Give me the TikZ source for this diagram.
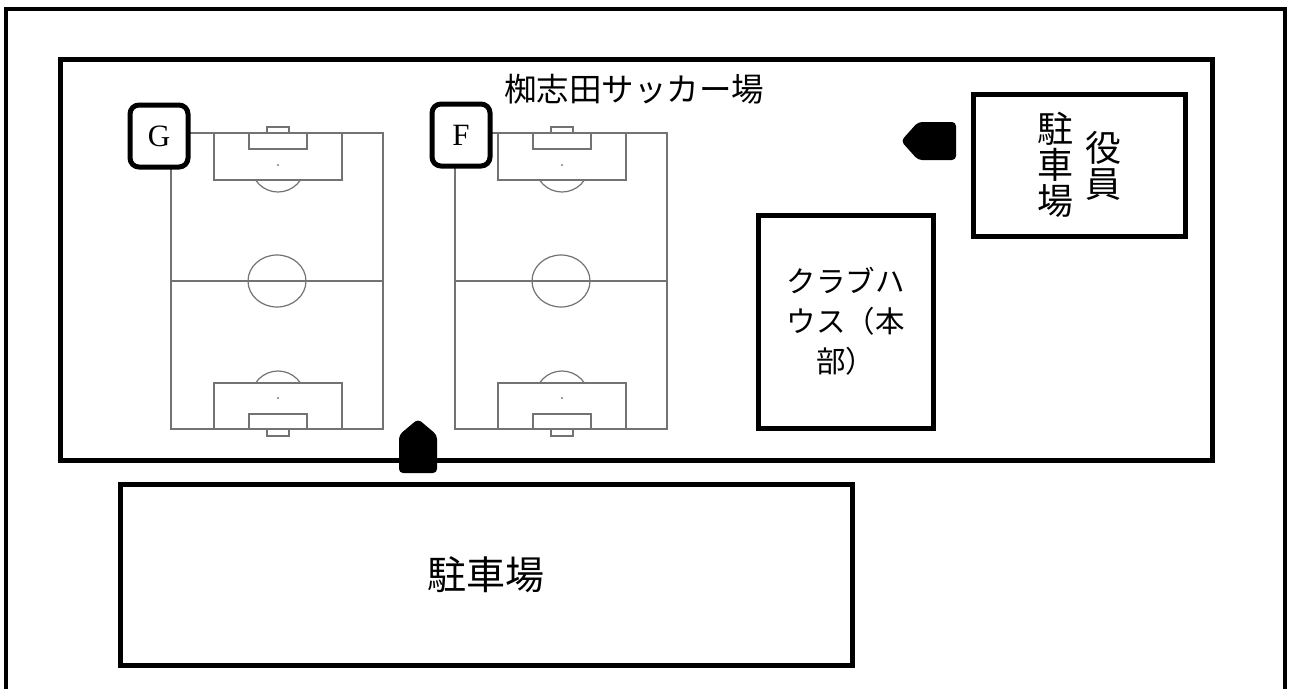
\documentclass[tikz,border=0pt]{standalone}
\usepackage{fontspec}
\newfontfamily\jp{Noto Sans CJK JP}
\newfontfamily\lat{Liberation Serif}
\begin{document}
\begin{tikzpicture}[x=1pt,y=-1pt,
  heavy/.style={draw=black,line width=5pt},
  pitchline/.style={draw=black!55,line width=1.2pt},
  lbl/.style={draw=black,line width=5pt,rounded corners=9pt,fill=white,minimum width=58pt,minimum height=62pt,inner sep=0pt,font=\lat\fontsize{31}{31}\selectfont},
  bldg/.style={draw=black,line width=5pt,inner sep=0pt},
  arr/.style={fill=black,rounded corners=4pt},
  jptext/.style={font=\jp\fontsize{#1}{#1}\selectfont,inner sep=0pt,align=center}]
\useasboundingbox (0,0) rectangle (1289,689);
\fill[white] (0,0) rectangle (1289,689);
% outer frame
\draw[line width=4.5pt] (6,689) -- (6,9) -- (1285,9) -- (1285,689);
% soccer ground
\draw[heavy] (60,59) rectangle (1212,460);
% pitches
\foreach \dx in {0,284}{
\begin{scope}[xshift=\dx pt]
  \draw[pitchline] (171,133) rectangle (383,429);
  \draw[pitchline] (171,281) -- (383,281);
  \draw[pitchline] (277,281) ellipse[x radius=29,y radius=26];
  \draw[pitchline] (214,133) rectangle (342,180);
  \draw[pitchline] (249,133) rectangle (307,149);
  \draw[pitchline] (267,127) rectangle (289,133);
  \fill[black!50] (278,165) circle[radius=1.1];
  \begin{scope}
    \clip (171,180) rectangle (383,200);
    \draw[pitchline] (278,165) circle[radius=27];
  \end{scope}
  \draw[pitchline] (214,383) rectangle (342,429);
  \draw[pitchline] (249,414) rectangle (307,429);
  \draw[pitchline] (267,429) rectangle (289,436);
  \fill[black!50] (278,398) circle[radius=1.1];
  \begin{scope}
    \clip (171,360) rectangle (383,383);
    \draw[pitchline] (278,398) circle[radius=27];
  \end{scope}
\end{scope}}
% labels G and F
\node[lbl] (G) at (159,136) {G};
\node[lbl] (F) at (461,135) {F};
% title
\node[jptext=32.5,font=\jp\fontsize{32.5}{32.5}\selectfont] (title) at (634,89) {椥志田サッカー場};
% clubhouse
\node[bldg,minimum width=175pt,minimum height=213pt] (club) at (845.5,321.5) {};
\node[jptext=29.5,font=\jp\fontsize{29.5}{40}\selectfont] (clubtxt) at (club.center) {クラブハ\\ウス（本\\部）};
% officials parking
\node[bldg,minimum width=212pt,minimum height=142pt] (offp) at (1079,165) {};
\node[jptext=36] (offa) at (1103,166) {役\\員};
\node[jptext=36] (offb) at (1055,165) {駐\\車\\場};
% main parking
\node[bldg,minimum width=732pt,minimum height=181pt] (park) at (486,574.5) {};
\node[jptext=39] (parktxt) at (park.center) {駐車場};
% entrance arrows
\fill[arr] (956,122) -- (918,122) -- (901,141) -- (918,160) -- (956,160) -- cycle;
\fill[arr] (399,473) -- (399,435) -- (418,419) -- (437,435) -- (437,473) -- cycle;
\end{tikzpicture}
\end{document}
